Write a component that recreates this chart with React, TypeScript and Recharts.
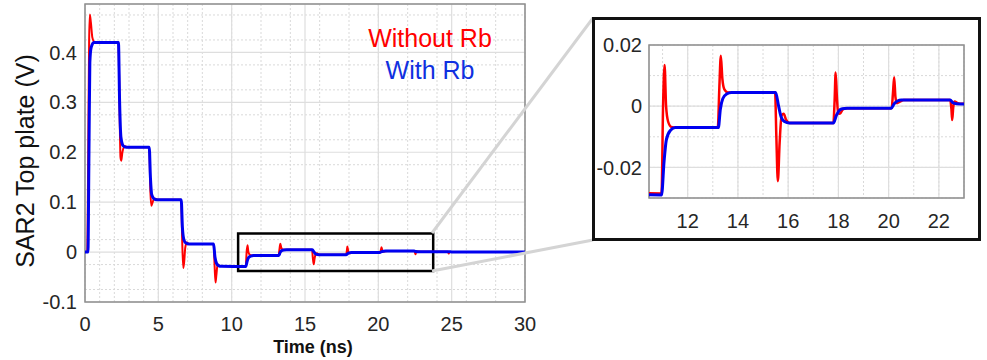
import React from "react";
import {
  LineChart,
  Line,
  XAxis,
  YAxis,
  CartesianGrid,
  ReferenceArea,
} from "recharts";

// SAR2 top plate voltage, time in ns
const redT = [
  0, 0.15, 0.22, 0.28, 0.33, 0.4, 0.5, 0.6, 0.75,
  2.28, 2.36, 2.42, 2.47, 2.55, 2.65, 2.75, 2.9,
  4.38, 4.46, 4.52, 4.58, 4.68, 4.8, 4.95,
  6.56, 6.63, 6.7, 6.76, 6.84, 6.95, 7.1,
  8.77, 8.84, 8.9, 8.96, 9.04, 9.15, 9.3,
  10.96, 11.02, 11.08, 11.14, 11.22, 11.35, 11.55,
  13.2, 13.26, 13.32, 13.38, 13.46, 13.6,
  15.48, 15.53, 15.59, 15.66, 15.74, 15.82, 15.92, 16.05,
  17.8, 17.85, 17.89, 17.94, 17.99, 18.06, 18.18, 18.35,
  20.12, 20.17, 20.22, 20.27, 20.33, 20.45, 20.6,
  22.45, 22.5, 22.53, 22.57, 22.62, 22.75, 22.9,
  24.75, 24.8, 24.86, 30,
];
const redV = [
  0, 0, 0.2, 0.42, 0.476, 0.46, 0.43, 0.422, 0.42,
  0.42, 0.28, 0.19, 0.183, 0.2, 0.21, 0.212, 0.21,
  0.21, 0.12, 0.093, 0.097, 0.105, 0.107, 0.105,
  0.105, 0.02, -0.032, -0.02, 0.01, 0.019, 0.016,
  0.016, -0.03, -0.061, -0.045, -0.025, -0.027, -0.028,
  -0.0285, 0.0, 0.0135, 0.0, -0.005, -0.0068, -0.007,
  -0.007, 0.006, 0.0165, 0.009, 0.0055, 0.0045,
  0.0045, -0.01, -0.0245, -0.012, -0.003, -0.0025, -0.0045, -0.0055,
  -0.0055, 0.002, 0.011, 0.003, -0.0022, -0.0025, -0.001, -0.0007,
  -0.0007, 0.004, 0.0095, 0.003, 0.001, 0.0015, 0.002,
  0.002, -0.001, -0.0045, -0.0005, 0.0015, 0.001, 0.0008,
  0.0007, -0.003, 0.0004, 0.0004,
];

const blueT = [
  0, 0.2, 0.27, 0.33, 0.42, 0.6,
  2.28, 2.36, 2.45, 2.6, 2.8,
  4.38, 4.46, 4.55, 4.7, 4.9,
  6.56, 6.64, 6.74, 6.88, 7.1,
  8.77, 8.86, 8.96, 9.1, 9.3,
  10.96, 11.06, 11.15, 11.3, 11.5,
  13.22, 13.3, 13.4, 13.55, 13.75,
  15.5, 15.62, 15.72, 15.85, 16.05,
  17.8, 17.92, 18.02, 18.15, 18.35,
  20.1, 20.22, 20.35, 20.5,
  22.45, 22.55, 22.7, 23.0,
  24.8, 25.0, 30,
];
const blueV = [
  0, 0, 0.2, 0.38, 0.41, 0.42,
  0.42, 0.3, 0.23, 0.213, 0.21,
  0.21, 0.15, 0.115, 0.107, 0.105,
  0.105, 0.05, 0.025, 0.018, 0.016,
  0.016, -0.01, -0.022, -0.027, -0.0285,
  -0.029, -0.018, -0.011, -0.008, -0.007,
  -0.007, -0.001, 0.0025, 0.004, 0.0045,
  0.0045, 0.0, -0.0035, -0.005, -0.0055,
  -0.0055, -0.003, -0.0015, -0.0008, -0.0007,
  -0.0007, 0.0008, 0.0017, 0.002,
  0.002, 0.0012, 0.0008, 0.0007,
  0.0007, 0.0004, 0.0004,
];

const mainXTicks = [0, 5, 10, 15, 20, 25, 30];
const mainYTicks = [-0.1, 0, 0.1, 0.2, 0.3, 0.4];
const mainXDomain = [0, 30];
const mainYDomain = [-0.1, 0.497];

const zoomXTicks = [12, 14, 16, 18, 20, 22];
const zoomYTicks = [-0.02, 0, 0.02];
const zoomXDomain = [10.46, 23.0];
const zoomYDomain = [-0.03, 0.02];

// zoomed window marked on the main plot
const boxT = [10.44, 23.74];
const boxV = [-0.038, 0.037];

const steps = (from: number, to: number, step: number) => {
  const out: number[] = [];
  for (let v = from; v <= to + step / 100; v += step) out.push(+v.toFixed(4));
  return out;
};

const mainMinorX = steps(0, 30, 1);
const mainMinorY = steps(-0.1, 0.475, 0.025);
const zoomMinorX = steps(10.5, 23, 0.5);
const zoomMinorY = steps(-0.03, 0.02, 0.005);

const redData = redT.map((t, i) => ({ t, v: redV[i] }));
const blueData = blueT.map((t, i) => ({ t, v: blueV[i] }));

const FONT = '"Liberation Sans", Arial, sans-serif';
const tickStyle = { fill: "#262626", fontSize: 20, fontFamily: FONT };
const fmt = (v: number) => (v === 0 ? "0" : String(+v.toFixed(3)));

const RED = "#ff0000";
const BLUE = "#0000f0";

export default function App() {
  return (
    <div
      style={{
        position: "absolute",
        left: 0,
        top: 0,
        width: 987,
        height: 360,
        background: "#fff",
        fontFamily: FONT,
      }}
    >
      <div style={{ position: "absolute", left: 0, top: 0 }}>
        <LineChart
          width={540}
          height={360}
          margin={{ top: 4, right: 15, bottom: 0, left: 0 }}
        >
          <CartesianGrid
            verticalValues={mainMinorX}
            horizontalValues={mainMinorY}
            stroke="#d9d9d9"
            strokeDasharray="2 2"
          />
          <CartesianGrid stroke="#dedede" strokeWidth={1.2} />
          <XAxis
            type="number"
            dataKey="t"
            domain={mainXDomain}
            ticks={mainXTicks}
            allowDataOverflow
            height={58}
            tickLine={false}
            tickSize={0}
            tickMargin={15}
            axisLine={false}
            tick={tickStyle}
          />
          <XAxis
            xAxisId="top"
            orientation="top"
            type="number"
            dataKey="t"
            domain={mainXDomain}
            ticks={mainXTicks}
            height={1}
            mirror
            tick={false}
            tickSize={5}
            tickLine={{ stroke: "#666" }}
            axisLine={false}
          />
          <YAxis
            type="number"
            domain={mainYDomain}
            ticks={mainYTicks}
            allowDataOverflow
            width={85}
            tickLine={false}
            tickSize={0}
            tickMargin={8}
            axisLine={false}
            tick={tickStyle}
            tickFormatter={fmt}
          />
          <YAxis
            yAxisId="right"
            orientation="right"
            type="number"
            domain={mainYDomain}
            ticks={mainYTicks}
            width={1}
            mirror
            tick={false}
            tickSize={5}
            tickLine={{ stroke: "#666" }}
            axisLine={false}
          />
          <ReferenceArea
            x1={mainXDomain[0]}
            x2={mainXDomain[1]}
            y1={mainYDomain[0]}
            y2={mainYDomain[1]}
            fill="none"
            stroke="#8f8f8f"
            strokeWidth={1.5}
            ifOverflow="visible"
          />
          <Line
            data={redData}
            dataKey="v"
            type="monotone"
            stroke={RED}
            strokeWidth={2}
            dot={false}
            isAnimationActive={false}
          />
          <Line
            data={blueData}
            dataKey="v"
            type="monotone"
            stroke={BLUE}
            strokeWidth={3}
            dot={false}
            isAnimationActive={false}
          />
          <ReferenceArea
            x1={boxT[0]}
            x2={boxT[1]}
            y1={boxV[0]}
            y2={boxV[1]}
            fill="none"
            stroke="#000"
            strokeWidth={2.5}
            ifOverflow="visible"
          />
        </LineChart>
      </div>

      <svg
        width={987}
        height={360}
        style={{ position: "absolute", left: 0, top: 0, pointerEvents: "none" }}
      >
        <line x1={432} y1={233} x2={593} y2={18} stroke="#d4d4d4" strokeWidth={3} />
        <line x1={432} y1={271} x2={593} y2={240} stroke="#d4d4d4" strokeWidth={3} />
        <text x={430} y={47} fill={RED} fontSize={25} textAnchor="middle" fontFamily={FONT}>
          Without Rb
        </text>
        <text x={430} y={79} fill="#1030e0" fontSize={25} textAnchor="middle" fontFamily={FONT}>
          With Rb
        </text>
        <text
          x={34}
          y={161}
          fill="#111"
          fontSize={25}
          textAnchor="middle"
          fontFamily={FONT}
          transform="rotate(-90 34 161)"
        >
          SAR2 Top plate (V)
        </text>
        <text
          x={313}
          y={353}
          fill="#111"
          fontSize={18}
          fontWeight="bold"
          textAnchor="middle"
          fontFamily={FONT}
        >
          Time (ns)
        </text>
      </svg>

      <div
        style={{
          position: "absolute",
          left: 592,
          top: 17,
          width: 389,
          height: 224,
          border: "3px solid #111",
          boxSizing: "border-box",
          background: "#fff",
        }}
      >
        <div style={{ position: "absolute", left: 1, top: 1 }}>
          <LineChart
            width={381}
            height={216}
            margin={{ top: 24, right: 13, bottom: 0, left: 0 }}
          >
            <CartesianGrid
              verticalValues={zoomMinorX}
              horizontalValues={zoomMinorY}
              stroke="#d9d9d9"
              strokeDasharray="2 2"
            />
            <CartesianGrid stroke="#dedede" strokeWidth={1.2} />
            <XAxis
              type="number"
              dataKey="t"
              domain={zoomXDomain}
              ticks={zoomXTicks}
              allowDataOverflow
              height={39}
              tickLine={false}
              tickSize={0}
              tickMargin={16}
              axisLine={false}
              tick={tickStyle}
            />
            <XAxis
              xAxisId="top"
              orientation="top"
              type="number"
              dataKey="t"
              domain={zoomXDomain}
              ticks={zoomXTicks}
              height={1}
              mirror
              tick={false}
              tickSize={4}
              tickLine={{ stroke: "#666" }}
              axisLine={false}
            />
            <YAxis
              type="number"
              domain={zoomYDomain}
              ticks={zoomYTicks}
              allowDataOverflow
              width={53}
              tickLine={false}
              tickSize={0}
              tickMargin={7}
              axisLine={false}
              tick={tickStyle}
              tickFormatter={fmt}
            />
            <YAxis
              yAxisId="right"
              orientation="right"
              type="number"
              domain={zoomYDomain}
              ticks={zoomYTicks}
              width={1}
              mirror
              tick={false}
              tickSize={4}
              tickLine={{ stroke: "#666" }}
              axisLine={false}
            />
            <ReferenceArea
              x1={zoomXDomain[0]}
              x2={zoomXDomain[1]}
              y1={zoomYDomain[0]}
              y2={zoomYDomain[1]}
              fill="none"
              stroke="#8f8f8f"
              strokeWidth={1.5}
              ifOverflow="visible"
            />
            <Line
              data={redData}
              dataKey="v"
              type="monotone"
              stroke={RED}
              strokeWidth={2.5}
              dot={false}
              isAnimationActive={false}
            />
            <Line
              data={blueData}
              dataKey="v"
              type="monotone"
              stroke={BLUE}
              strokeWidth={3}
              dot={false}
              isAnimationActive={false}
            />
          </LineChart>
        </div>
      </div>
    </div>
  );
}
